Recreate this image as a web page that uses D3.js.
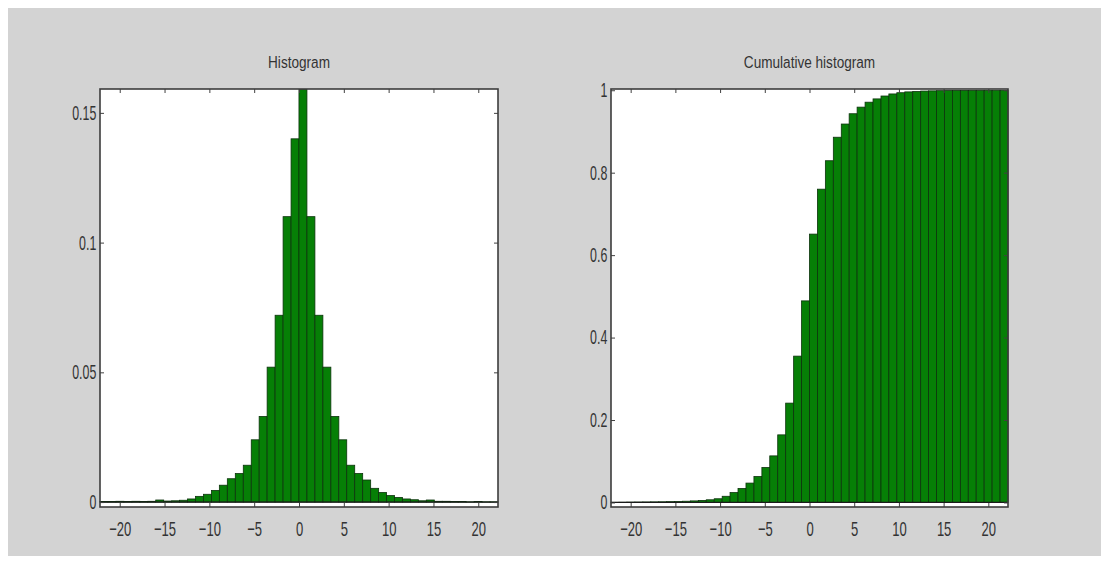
<!DOCTYPE html>
<html>
<head>
<meta charset="utf-8">
<script src="https://cdn.jsdelivr.net/npm/d3@7"></script>
<style>
  html, body { margin: 0; padding: 0; background: #ffffff; }
  svg { display: block; }
</style>
</head>
<body>
<svg id="chart" width="1109" height="564"></svg>
<script>
// ---------------- data ----------------
const binCenters = [-21.76, -20.87, -19.98, -19.09, -18.20, -17.32, -16.43, -15.54, -14.65, -13.76,
  -12.88, -11.99, -11.10, -10.21, -9.32, -8.44, -7.55, -6.66, -5.77, -4.88,
  -4.00, -3.11, -2.22, -1.33, -0.44, 0.44, 1.33, 2.22, 3.11, 4.00,
  4.88, 5.77, 6.66, 7.55, 8.44, 9.32, 10.21, 11.10, 11.99, 12.88,
  13.76, 14.65, 15.54, 16.43, 17.32, 18.20, 19.09, 19.98, 20.87, 21.76];

const histValues = [0.0002, 0.0002, 0.0003, 0.0002, 0.0003, 0.0002, 0.0003, 0.0008, 0.0004, 0.0005,
  0.0007, 0.0012, 0.0022, 0.0030, 0.0045, 0.0065, 0.0090, 0.0110, 0.0142, 0.0240,
  0.0330, 0.0520, 0.0720, 0.1100, 0.1400, 0.1590, 0.1100, 0.0720, 0.0520, 0.0330,
  0.0240, 0.0142, 0.0110, 0.0085, 0.0053, 0.0037, 0.0025, 0.0018, 0.0012, 0.0009,
  0.0005, 0.0008, 0.0003, 0.0003, 0.0002, 0.0002, 0.0001, 0.0002, 0.0001, 0.0001];

const cumValues = [0.0003, 0.0005, 0.0008, 0.0010, 0.0012, 0.0014, 0.0016, 0.0020, 0.0025, 0.0030,
  0.0038, 0.0050, 0.0065, 0.0090, 0.0150, 0.0240, 0.0340, 0.0470, 0.0630, 0.0850,
  0.1130, 0.1640, 0.2410, 0.3550, 0.4890, 0.6510, 0.7600, 0.8290, 0.8860, 0.9180,
  0.9430, 0.9590, 0.9710, 0.9790, 0.9860, 0.9910, 0.9940, 0.9960, 0.9970, 0.9980,
  0.9985, 0.9990, 0.9993, 0.9995, 0.9996, 0.9997, 0.9998, 0.9999, 0.9999, 1.0000];

const xTicks = [-20, -15, -10, -5, 0, 5, 10, 15, 20];
const histYTicks = [0, 0.05, 0.1, 0.15];
const histYLabels = ["0", "0.05", "0.1", "0.15"];
const cumYTicks = [0, 0.2, 0.4, 0.6, 0.8, 1];
const cumYLabels = ["0", "0.2", "0.4", "0.6", "0.8", "1"];
const titles = ["Histogram", "Cumulative histogram"];

// ---------------- drawing ----------------
const svg = d3.select("#chart");
svg.append("rect").attr("x", 8).attr("y", 8).attr("width", 1093).attr("height", 548)
  .attr("fill", "#d3d3d3");

const xDomain = [-22.2, 22.2];
const binWidth = binCenters[1] - binCenters[0];
const FONT = "Liberation Sans, Arial, sans-serif";

function panel(opts) {
  const { left, right, top, bottom, yDomain, values, yTicks, yLabels, title } = opts;
  const x = d3.scaleLinear().domain(xDomain).range([left, right]);
  const y = d3.scaleLinear().domain(yDomain).range([bottom, top]);
  const g = svg.append("g");

  g.append("rect").attr("x", left).attr("y", top)
    .attr("width", right - left).attr("height", bottom - top).attr("fill", "#ffffff");

  // bars
  g.append("g").selectAll("rect").data(binCenters).join("rect")
    .attr("x", (c) => x(c - binWidth / 2))
    .attr("width", (c) => x(c + binWidth / 2) - x(c - binWidth / 2))
    .attr("y", (c, i) => y(values[i]))
    .attr("height", (c, i) => y(0) - y(values[i]))
    .attr("fill", "#067f06")
    .attr("stroke", "#0d330d")
    .attr("stroke-width", 0.8);

  // baseline
  g.append("line").attr("x1", left).attr("x2", right)
    .attr("y1", y(0)).attr("y2", y(0))
    .attr("stroke", "#1a1a1a").attr("stroke-width", 1.2);

  const styleAxis = (sel) => {
    sel.select(".domain").remove();
    sel.selectAll(".tick line").attr("stroke", "#404040").attr("stroke-width", 1);
  };

  // bottom axis with labels
  const ax = g.append("g").attr("transform", `translate(0,${bottom})`)
    .call(d3.axisBottom(x).tickValues(xTicks).tickSize(-4).tickPadding(14));
  styleAxis(ax);
  ax.selectAll("text")
    .attr("font-family", FONT)
    .attr("font-size", 21).attr("fill", "#333333")
    .attr("transform", "scale(0.62,1)");

  // top axis (ticks only)
  const axt = g.append("g").attr("transform", `translate(0,${top})`)
    .call(d3.axisTop(x).tickValues(xTicks).tickSize(-4).tickFormat(""));
  styleAxis(axt);

  // left axis with labels
  const ay = g.append("g").attr("transform", `translate(${left},0)`)
    .call(d3.axisLeft(y).tickValues(yTicks).tickSize(-4)
      .tickFormat((d, i) => yLabels[i]));
  styleAxis(ay);
  ay.selectAll("text")
    .attr("x", -6)
    .attr("font-family", FONT)
    .attr("font-size", 20).attr("fill", "#333333")
    .attr("transform", "scale(0.62,1)");

  // right axis (ticks only)
  const ayr = g.append("g").attr("transform", `translate(${right},0)`)
    .call(d3.axisRight(y).tickValues(yTicks).tickSize(-4).tickFormat(""));
  styleAxis(ayr);

  // frame
  g.append("rect").attr("x", left).attr("y", top)
    .attr("width", right - left).attr("height", bottom - top)
    .attr("fill", "none").attr("stroke", "#3c3c3c").attr("stroke-width", 1.6);

  // title
  const cx = (left + right) / 2;
  g.append("text")
    .attr("transform", `translate(${cx},68) scale(0.8,1)`)
    .attr("text-anchor", "middle")
    .attr("font-family", FONT)
    .attr("font-size", 17).attr("fill", "#333333")
    .text(title);
}

panel({ left: 100, right: 498, top: 89, bottom: 507,
  yDomain: [-0.0019, 0.1592], values: histValues,
  yTicks: histYTicks, yLabels: histYLabels, title: titles[0] });

panel({ left: 611, right: 1008, top: 89, bottom: 507,
  yDomain: [-0.011, 1.003], values: cumValues,
  yTicks: cumYTicks, yLabels: cumYLabels, title: titles[1] });
</script>
</body>
</html>
